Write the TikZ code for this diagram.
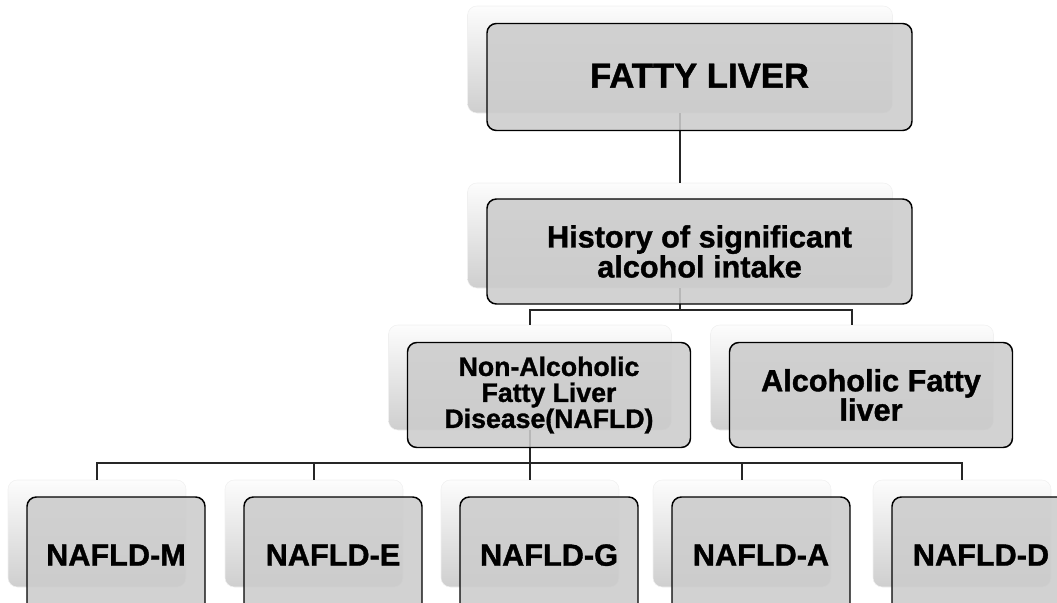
\documentclass[tikz,border=0pt]{standalone}
\usepackage{fontspec}
\setmainfont{Liberation Sans}[BoldFeatures={FakeBold=1.2}]
\usepackage{tikz}

\begin{document}
\begin{tikzpicture}[x=0.75pt,y=-0.75pt,
  backbox/.style={rounded corners=7pt,top color=gray!2,middle color=gray!7,bottom color=gray!38,draw=gray!12,inner sep=0pt,outer sep=0pt},
  frontbox/.style={rounded corners=7pt,draw=black,line width=1.1pt,fill=black!20,fill opacity=0.88,text opacity=1,inner sep=0pt,outer sep=0pt,align=center},
  link/.style={draw=black!85,line width=0.8pt}]
\useasboundingbox (0,0) rectangle (1057,603);
% back layer
\node[backbox,minimum width=318.75pt,minimum height=80.25pt] (btop) at (680,59.5) {};
\node[backbox,minimum width=318.75pt,minimum height=78.75pt] (bhist) at (680,235.5) {};
\node[backbox,minimum width=212.25pt,minimum height=78.75pt] (bnafld) at (530,377.5) {};
\node[backbox,minimum width=212.25pt,minimum height=78.75pt] (balc) at (852,377.5) {};
\foreach \x/\n in {97/M,314/E,530/G,742/A,962/D}
  \node[backbox,minimum width=133.5pt,minimum height=80.25pt] (b\n) at (\x,533.5) {};
% connectors
\draw[link] (btop.south) -- (bhist.north);
\draw[link] (bhist.south) -- ++(0,22) -| (bnafld.north);
\draw[link] (bhist.south) -- ++(0,22) -| (balc.north);
\foreach \n in {M,E,G,A,D}
  \draw[link] (bnafld.south) -- ++(0,33) -| (b\n.north);
% front layer
\node[frontbox,minimum width=318.75pt,minimum height=80.25pt,font=\bfseries\fontsize{26}{28}\selectfont] (top) at (699.5,77) {\raisebox{2pt}{FATTY LIVER}};
\node[frontbox,minimum width=318.75pt,minimum height=78.75pt,font=\bfseries\fontsize{23}{22.5}\selectfont] (hist) at (699.5,251.5) {History of significant\\alcohol intake};
\node[frontbox,minimum width=212.25pt,minimum height=78.75pt,font=\bfseries\fontsize{20}{19.5}\selectfont] (nafld) at (549,395) {Non-Alcoholic\\Fatty Liver\\Disease(NAFLD)};
\node[frontbox,minimum width=212.25pt,minimum height=78.75pt,font=\bfseries\fontsize{23}{22}\selectfont] (alc) at (871,395) {Alcoholic Fatty\\liver};
\foreach \x/\n in {97/M,314/E,530/G,742/A,962/D}
  \node[frontbox,minimum width=133.5pt,minimum height=90pt,font=\bfseries\fontsize{23}{26}\selectfont] (f\n) at (\x+19,557) {\raisebox{3pt}{NAFLD-\n}};
\end{tikzpicture}
\end{document}
